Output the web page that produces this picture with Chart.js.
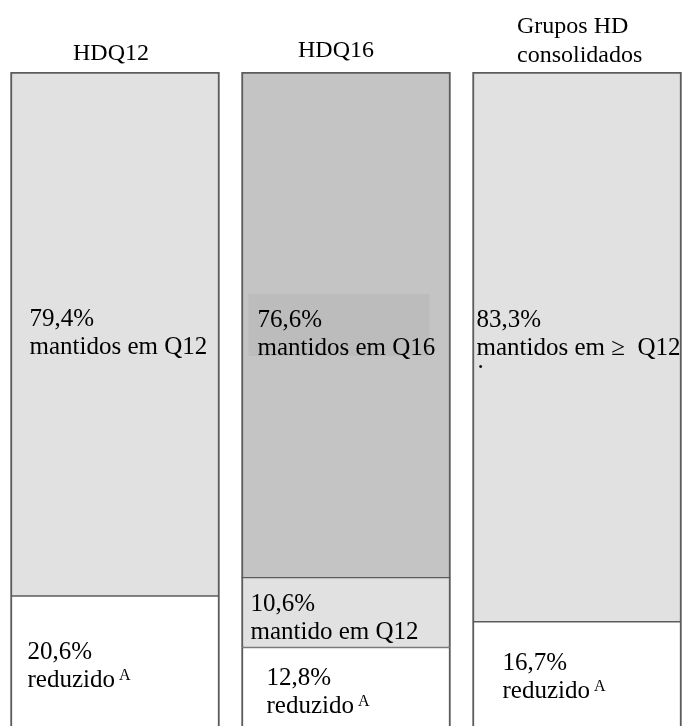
<!DOCTYPE html>
<html><head><meta charset="utf-8">
<script src="https://cdn.jsdelivr.net/npm/chart.js@4"></script>
<style>
html,body{margin:0;padding:0;background:#fff;overflow:hidden;width:682px;height:726px}
#wrap{position:relative;width:682px;height:740px}
canvas{display:block}
</style>
</head><body><div id="wrap"><canvas id="c" width="682" height="740"></canvas></div>
<script>
// ---- data ----
const groupTitles = [["HDQ12"], ["HDQ16"], ["Grupos HD", "consolidados"]];
const reduzido = [20.6, 12.8, 16.7];
const mantidoQ12Mid = [null, 10.6, null];
const mantidosTop = [79.4, 76.6, 83.3];
const topDesc = ["mantidos em Q12", "mantidos em Q16", "mantidos em \u2265  Q12"];
const midDesc = [null, "mantido em Q12", null];
const bottomDesc = ["reduzido", "reduzido", "reduzido"];
const footMark = "A";

// ---- style / layout ----
const LIGHT = '#e1e1e1', DARK = '#c4c4c4', EDGE = '#5c5c5c';
const topColors = [LIGHT, DARK, LIGHT];
const FONT = '"Liberation Serif","Times New Roman",serif';
const FS = 25;
const TFS = 24;
const LINE = 28;
// label offsets relative to segment (left edge, top edge)
const topOff = [{dx: 19, dy: 254}, {dx: 16, dy: 255}, {dx: 4, dy: 255}];
const midOff = [null, {dx: 9, dy: 33}, null];
const botOff = [{dx: 17, dy: 63}, {dx: 25, dy: 37}, {dx: 30, dy: 48}];
const titlePos = [
  {x: 111, y: 60, align: 'center'},
  {x: 336, y: 57, align: 'center'},
  {x: 517, y: 33, align: 'left'}
];

const idx = groupTitles.map((_, i) => i);
const pts = arr => idx.map(i => ({x: i, y: arr[i]}));
const pct = v => v.toFixed(1).replace('.', ',') + '%';

const labelPlugin = {
  id: 'labels',
  afterDatasetsDraw(chart) {
    const ctx = chart.ctx;
    ctx.save();
    ctx.fillStyle = '#000';
    ctx.textBaseline = 'alphabetic';
    // titles
    ctx.font = TFS + 'px ' + FONT;
    groupTitles.forEach((lines, i) => {
      const p = titlePos[i];
      ctx.textAlign = p.align;
      lines.forEach((t, k) => ctx.fillText(t, p.x, p.y + k * 29));
    });
    ctx.textAlign = 'left';
    const segs = [
      {ds: 2, values: mantidosTop, desc: topDesc, off: topOff, mark: false},
      {ds: 1, values: mantidoQ12Mid, desc: midDesc, off: midOff, mark: false},
      {ds: 0, values: reduzido, desc: bottomDesc, off: botOff, mark: true}
    ];
    segs.forEach(s => {
      const meta = chart.getDatasetMeta(s.ds);
      meta.data.forEach((el, i) => {
        if (s.values[i] == null || !s.off[i]) return;
        const left = el.x - el.width / 2;
        const top = Math.min(el.y, el.base);
        const x = left + s.off[i].dx, y = top + s.off[i].dy;
        if (s.ds === 2 && i === 1) {
          ctx.fillStyle = '#bcbcbc';
          ctx.fillRect(left + 7, top + 222, 181, 62);
          ctx.fillStyle = '#000';
        }
        ctx.font = FS + 'px ' + FONT;
        ctx.fillText(pct(s.values[i]), x, y);
        ctx.fillText(s.desc[i], x, y + LINE);
        if (s.ds === 2 && i === 2) {
          ctx.fillText('.', x + 1, y + LINE + 13);
        }
        if (s.mark) {
          const w = ctx.measureText(s.desc[i]).width;
          ctx.font = '16px ' + FONT;
          ctx.fillText(footMark, x + w + 4, y + LINE - 7);
        }
      });
    });
    ctx.restore();
  }
};

new Chart(document.getElementById('c'), {
  type: 'bar',
  data: {
    datasets: [
      {label: 'reduzido', data: pts(reduzido), backgroundColor: '#ffffff', borderColor: EDGE,
       borderWidth: {top: 1, bottom: 2, left: 2, right: 2}, borderSkipped: false, stack: 's'},
      {label: 'mantido em Q12', data: pts(mantidoQ12Mid), backgroundColor: LIGHT, borderColor: EDGE,
       borderWidth: {top: 1, bottom: 1, left: 2, right: 2}, borderSkipped: false, stack: 's'},
      {label: 'mantidos', data: pts(mantidosTop), backgroundColor: topColors, borderColor: EDGE,
       borderWidth: {top: 2, bottom: 1, left: 2, right: 2}, borderSkipped: false, stack: 's'}
    ]
  },
  options: {
    responsive: false,
    animation: false,
    devicePixelRatio: 1,
    barThickness: 209,
    layout: {padding: {top: 72, bottom: 8, left: 0, right: 0}},
    plugins: {legend: {display: false}, tooltip: {enabled: false}, title: {display: false}},
    scales: {
      x: {type: 'linear', min: -0.4978, max: 2.4545, display: false, stacked: true, offset: false,
          grid: {offset: false}, bounds: 'data'},
      y: {stacked: true, min: 0, max: 100, display: false}
    }
  },
  plugins: [labelPlugin]
});
</script>
</body></html>
